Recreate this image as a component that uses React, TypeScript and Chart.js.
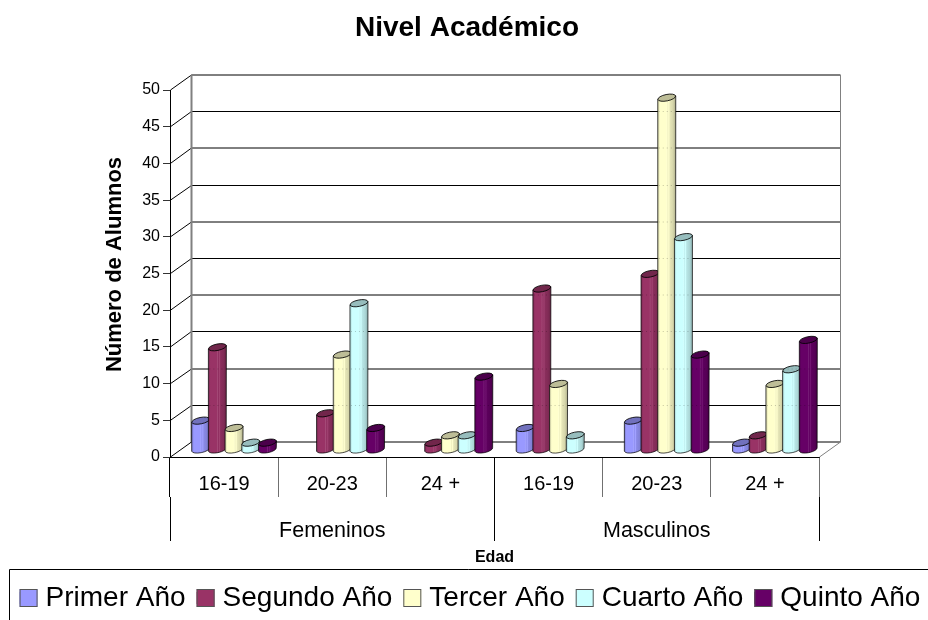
import React, { useEffect, useRef } from "react";
import { Chart, registerables } from "chart.js";

Chart.register(...registerables);

const ageLabels = ["16-19", "20-23", "24 +", "16-19", "20-23", "24 +"];
const groupLabels = ["Femeninos", "Masculinos"];
const yTicks = [0, 5, 10, 15, 20, 25, 30, 35, 40, 45, 50];
const primerAno = [4, null, null, 3, 4, 1];
const segundoAno = [14, 5, 1, 22, 24, 2];
const tercerAno = [3, 13, 2, 9, 48, 9];
const cuartoAno = [1, 20, 2, 2, 29, 11];
const quintoAno = [1, 3, 10, null, 13, 15];
const seriesNames = ["Primer Año", "Segundo Año", "Tercer Año", "Cuarto Año", "Quinto Año"];
const seriesValues = [primerAno, segundoAno, tercerAno, cuartoAno, quintoAno];
const seriesColors = ["#9999FF", "#993366", "#FFFFCC", "#CCFFFF", "#660066"];

const FONT = "'Liberation Sans', Arial, sans-serif";
const DEPTH_X = 21;
const DEPTH_Y = 15;

function shade(hex: string, f: number) {
  const n = parseInt(hex.slice(1), 16);
  const mix = (c: number) => Math.min(255, Math.round(f <= 1 ? c * f : c + (255 - c) * (f - 1)));
  return `rgb(${mix((n >> 16) & 255)},${mix((n >> 8) & 255)},${mix(n & 255)})`;
}

function drawCylinder(ctx: any, bar: any, color: string) {
  const p = bar.getProps(["x", "y", "base", "width"], true);
  const cx = p.x + DEPTH_X / 2 - 0.5;
  const rx = 9;
  const ry = 3.2;
  const rot = -0.2;
  const topY = p.y - DEPTH_Y / 2 + 0.5;
  const baseY = p.base - DEPTH_Y / 2 + 0.5;
  const dy = rx * Math.sin(rot);
  const g = ctx.createLinearGradient(cx - rx, 0, cx + rx, 0);
  g.addColorStop(0, shade(color, 0.8));
  g.addColorStop(0.12, shade(color, 1));
  g.addColorStop(0.46, shade(color, 1));
  g.addColorStop(0.5, shade(color, 1.12));
  g.addColorStop(0.56, shade(color, 0.95));
  g.addColorStop(0.62, shade(color, 1.08));
  g.addColorStop(0.68, shade(color, 0.9));
  g.addColorStop(0.85, shade(color, 0.84));
  g.addColorStop(1, shade(color, 0.68));
  ctx.beginPath();
  ctx.moveTo(cx - rx, topY - dy);
  ctx.lineTo(cx - rx, baseY - dy);
  ctx.ellipse(cx, baseY, rx, ry, rot, Math.PI, 0, true);
  ctx.lineTo(cx + rx, topY + dy);
  ctx.closePath();
  ctx.fillStyle = g;
  ctx.fill();
  ctx.strokeStyle = "rgba(0,0,0,0.7)";
  ctx.lineWidth = 1;
  ctx.stroke();
  ctx.beginPath();
  ctx.ellipse(cx, topY, rx, ry, rot, 0, Math.PI * 2);
  ctx.fillStyle = shade(color, 0.74);
  ctx.fill();
  ctx.strokeStyle = "rgba(0,0,0,0.85)";
  ctx.stroke();
}

const wallPlugin = {
  id: "wall3d",
  beforeDatasetsDraw(chart: any) {
    const { ctx, chartArea, scales } = chart;
    const y = scales.y;
    const left = chartArea.left + 0.5;
    const right = chartArea.right + 0.5;
    const backY = (v: number, i: number) => {
      const py = y.getPixelForValue(v);
      return (i % 2 === 0 ? Math.round(py) : Math.floor(py) + 0.5) - DEPTH_Y;
    };
    ctx.save();
    ctx.lineWidth = 1;
    yTicks.forEach((v, i) => {
      const py = y.getPixelForValue(v);
      const by = backY(v, i);
      ctx.strokeStyle = "#000";
      ctx.beginPath();
      ctx.moveTo(left, py);
      ctx.lineTo(left + DEPTH_X, by);
      ctx.lineTo(right + DEPTH_X, by);
      ctx.stroke();
    });
    const bottom = y.getPixelForValue(0);
    const top = y.getPixelForValue(50);
    ctx.strokeStyle = "#808080";
    ctx.lineWidth = 2;
    ctx.beginPath();
    ctx.moveTo(left + DEPTH_X, top - DEPTH_Y);
    ctx.lineTo(left + DEPTH_X, bottom - DEPTH_Y);
    ctx.stroke();
    ctx.lineWidth = 1;
    ctx.beginPath();
    ctx.moveTo(right + DEPTH_X, top - DEPTH_Y);
    ctx.lineTo(right + DEPTH_X, bottom - DEPTH_Y);
    ctx.lineTo(right, bottom);
    ctx.stroke();
    ctx.restore();
    ctx.save();
    chart.data.datasets.forEach((ds: any, d: number) => {
      chart.getDatasetMeta(d).data.forEach((bar: any, i: number) => {
        if (ds.data[i] !== null) drawCylinder(ctx, bar, seriesColors[d]);
      });
    });
    ctx.restore();
    ctx.save();
    ctx.strokeStyle = "rgba(0,0,0,0.22)";
    ctx.lineWidth = 1;
    ctx.setLineDash([1, 3]);
    yTicks.forEach((v, i) => {
      if (v === 0) return;
      const by = backY(v, i);
      chart.data.datasets.forEach((ds: any, d: number) => {
        chart.getDatasetMeta(d).data.forEach((bar: any, k: number) => {
          if (ds.data[k] === null || ds.data[k] * 1 <= v) return;
          const cx = bar.x + DEPTH_X / 2 - 0.5;
          ctx.beginPath();
          ctx.moveTo(cx - 8, by);
          ctx.lineTo(cx + 8, by);
          ctx.stroke();
        });
      });
    });
    ctx.restore();
  },
  beforeDatasetDraw() {
    return false;
  },
  afterLayout(chart: any) {
    const legend = chart.legend;
    legend.left += 6;
    legend.right += 6;
    legend.top += 2;
    legend.bottom += 2;
    legend.adjustHitBoxes();
    chart.titleBlock.left += 3;
    chart.titleBlock.right += 3;
    const y = chart.scales.y;
    const drawTitle = y.drawTitle;
    y.drawTitle = function () {
      chart.ctx.save();
      chart.ctx.translate(0, -9);
      drawTitle.call(y);
      chart.ctx.restore();
    };
  },
  afterDraw(chart: any) {
    const { ctx } = chart;
    ctx.save();
    ctx.strokeStyle = "#000";
    ctx.lineWidth = 1;
    ctx.beginPath();
    ctx.moveTo(9.5, 620);
    ctx.lineTo(9.5, 569.5);
    ctx.lineTo(928, 569.5);
    ctx.stroke();
    chart.legend.legendHitBoxes.forEach((hit: any, i: number) => {
      ctx.fillStyle = seriesColors[i];
      ctx.fillRect(hit.left, 589, 18, 18);
      ctx.strokeStyle = "#555";
      ctx.strokeRect(hit.left + 0.5, 589.5, 17, 17);
    });
    ctx.restore();
  },
};

export default function App() {
  const ref = useRef<HTMLCanvasElement>(null);
  useEffect(() => {
    const chart = new Chart(ref.current as HTMLCanvasElement, {
      type: "bar",
      data: {
        labels: ageLabels,
        datasets: seriesNames.map((name, i) => ({
          label: name,
          data: seriesValues[i],
          backgroundColor: seriesColors[i],
          borderColor: seriesColors[i],
          xAxisID: "x",
          yAxisID: "y",
          categoryPercentage: 0.772,
          barPercentage: 1,
        })),
      },
      options: {
        animation: false,
        responsive: false,
        layout: { padding: 0, autoPadding: false },
        plugins: {
          title: {
            display: true,
            text: "Nivel Académico",
            color: "#000",
            font: { family: FONT, size: 28, weight: "bold" },
            padding: { top: 11, bottom: 45.4 },
          },
          legend: {
            display: true,
            position: "bottom",
            labels: {
              boxWidth: 12,
              boxHeight: 12,
              padding: 11,
              color: "#000",
              font: { family: FONT, size: 28 },
            },
          },
          tooltip: { enabled: false },
        },
        scales: {
          y: {
            min: 0,
            max: 50,
            position: "left",
            afterFit: (s: any) => { s.width = 170; },
            ticks: {
              stepSize: 5,
              padding: 3,
              color: "#000",
              font: { family: FONT, size: 16 },
            },
            grid: { drawOnChartArea: false, tickLength: 7, color: "#333" },
            border: { color: "#000" },
            title: {
              display: true,
              text: "Número de Alumnos",
              color: "#000",
              font: { family: FONT, size: 22, weight: "bold" },
              padding: { top: 102, bottom: 0 },
            },
          },
          rightGap: {
            type: "linear",
            position: "right",
            afterFit: (s: any) => { s.width = 109; },
            ticks: { display: false },
            grid: { display: false },
            border: { display: false },
          },
          x: {
            type: "category",
            position: "bottom",
            weight: 0,
            afterFit: (s: any) => { s.height = 40; },
            ticks: {
              padding: -25,
              color: "#000",
              maxRotation: 0,
              autoSkip: false,
              font: { family: FONT, size: 20 },
            },
            grid: {
              drawOnChartArea: false,
              tickLength: 40,
              color: (c: any) => (c.index === 0 || c.index === 3 ? "#000" : "#707070"),
            },
            border: { color: "#000" },
          },
          group: {
            type: "category",
            position: "bottom",
            weight: 1,
            labels: groupLabels,
            afterFit: (s: any) => { s.height = 74; },
            ticks: {
              padding: -23,
              color: "#000",
              maxRotation: 0,
              autoSkip: false,
              font: { family: FONT, size: 21.5 },
            },
            grid: {
              drawOnChartArea: false,
              tickLength: 44,
              color: (c: any) => (c.index === 2 ? "#707070" : "#000"),
              offset: true,
            },
            border: { display: false },
            title: {
              display: true,
              text: "Edad",
              color: "#000",
              font: { family: FONT, size: 16, weight: "bold" },
              padding: { top: 0, bottom: 4 },
            },
          },
        },
      },
      plugins: [wallPlugin],
    } as any);
    return () => chart.destroy();
  }, []);
  return (
    <canvas
      ref={ref}
      width={928}
      height={620}
      style={{ position: "absolute", left: 0, top: 0, display: "block" }}
    />
  );
}
